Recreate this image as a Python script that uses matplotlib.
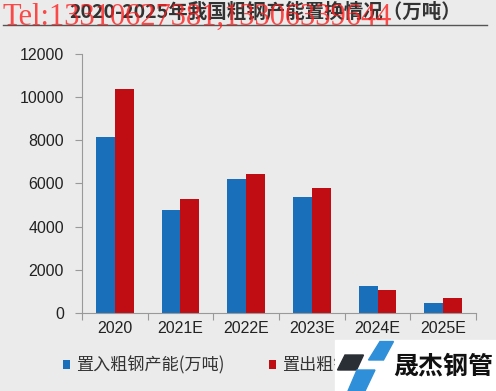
import matplotlib.pyplot as plt
import matplotlib.patches as mpatches
import numpy as np

plt.rcParams['font.family'] = ['Liberation Sans', 'Noto Sans CJK SC', 'DejaVu Sans']

# data
years = ['2020', '2021E', '2022E', '2023E', '2024E', '2025E']
capacity_in = [8170, 4770, 6210, 5360, 1240, 450]
capacity_out = [10400, 5280, 6440, 5780, 1050, 700]
label_in = '置入粗钢产能(万吨)'
label_out = '置出粗钢产能(万吨)'
title = '2020-2025年我国粗钢产能置换情况（万吨）'

blue = '#1a6fba'
red = '#c00d14'
bg = '#ebebeb'

fig = plt.figure(figsize=(4.96, 3.91), dpi=100, facecolor=bg)
ax = fig.add_axes([0.1653, 0.2003, 0.7944, 0.6608], facecolor=bg)

x = np.arange(len(years))
w = 0.285
b1 = ax.bar(x - w / 2, capacity_in, w, color=blue, label=label_in)
b2 = ax.bar(x + w / 2, capacity_out, w, color=red, label=label_out)

ax.set_xlim(-0.5, 5.5)
ax.set_ylim(0, 12000)
ax.set_yticks(range(0, 12001, 2000))
ax.set_xticks(np.arange(-0.5, 6, 1))
ax.set_xticklabels([])
ax.set_xticks(x, minor=True)
ax.set_xticklabels(years, minor=True)
ax.tick_params(axis='x', which='minor', length=0, pad=6, labelsize=11.5, labelcolor='#222222')
ax.tick_params(axis='x', which='major', length=5, color='#999999', direction='out')
ax.tick_params(axis='y', length=5, color='#999999', labelsize=11.5, labelcolor='#222222', pad=8)
for s in ['top', 'right']:
    ax.spines[s].set_visible(False)
for s in ['left', 'bottom']:
    ax.spines[s].set_color('#999999')

# legend
leg = ax.legend(handles=[b1, b2], loc='upper left', bbox_to_anchor=(-0.086, -0.11), ncol=2,
                frameon=False, handlelength=0.4, handleheight=0.4, handletextpad=0.35,
                columnspacing=2.6, prop={'family': 'Noto Sans CJK SC', 'size': 12.3})
for t in leg.get_texts():
    t.set_color('#333333')

# title and rule
fig.text(0.534, 0.969, title, ha='center', va='center', fontsize=14, fontweight='bold',
         family='Noto Sans CJK SC', color='#333333')
fig.add_artist(plt.Line2D([0.006, 0.982], [0.936, 0.936], color='#555555', lw=1))

# red watermark
fig.text(0.006, 0.936, 'Tel:13310627381,13306339644', ha='left', va='baseline',
         fontsize=22, family='Liberation Serif', color='#ff2020', alpha=0.8)

# logo box
H = 391.0
W = 496.0
def px(pts):
    return [(a / W, 1 - b / H) for a, b in pts]
fig.add_artist(mpatches.Rectangle((335 / W, 0), 1 - 335 / W, 1 - 340 / H,
                                  transform=fig.transFigure, color='white', zorder=5))
fig.add_artist(mpatches.Polygon(px([(345, 355), (363.5, 355), (356.5, 370), (337.5, 370)]),
                                transform=fig.transFigure, color='#2a2e35', zorder=6))
fig.add_artist(mpatches.Polygon(px([(380, 341.5), (393.5, 341.5), (383.5, 360), (368.5, 360)]),
                                transform=fig.transFigure, color='#2f8fd8', zorder=6))
fig.add_artist(mpatches.Polygon(px([(357, 370), (375, 370), (365, 391), (348, 391)]),
                                transform=fig.transFigure, color='#2f8fd8', zorder=6))
fig.text(443 / W, 1 - 366 / H, '晟杰钢管', ha='center', va='center', fontsize=18,
         fontweight='heavy', family='Noto Sans CJK SC', color='#111111', zorder=7)

fig.savefig('out.png', dpi=100, facecolor=bg)
